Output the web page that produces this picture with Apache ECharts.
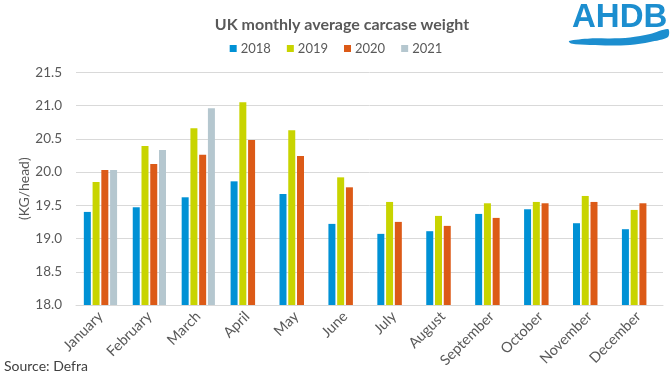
<!DOCTYPE html>
<html><head><meta charset="utf-8">
<script src="https://cdn.jsdelivr.net/npm/echarts@6/dist/echarts.min.js"></script>
<style>html,body{margin:0;padding:0;background:#fff}#c{width:672px;height:378px}</style>
</head><body><div id="c"></div>
<script>
const months = ['January','February','March','April','May','June','July','August','September','October','November','December'];
const y2018 = [19.40,19.47,19.62,19.86,19.67,19.22,19.07,19.11,19.37,19.44,19.23,19.14];
const y2019 = [19.85,20.39,20.66,21.05,20.63,19.92,19.55,19.34,19.53,19.55,19.64,19.43];
const y2020 = [20.03,20.12,20.26,20.48,20.24,19.77,19.25,19.19,19.31,19.53,19.55,19.53];
const y2021 = [20.03,20.33,20.96,null,null,null,null,null,null,null,null,null];
const seriesNames = ['2018','2019','2020','2021'];
const colors = ['#0091D5','#C8D400','#DC5A17','#B5C7CF'];
const FONT = 'Lato';
const chart = echarts.init(document.getElementById('c'), null, {renderer:'canvas'});
const dataSets = [y2018,y2019,y2020,y2021];
const wave = [[569,41],[590,38.5],[610,38.5],[630,37.5],[650,34],[668,29],
              [668,37],[650,42],[630,45],[610,45.5],[590,45],[571,43.5]];
chart.setOption({
  animation:false,
  color: colors,
  title:{text:'UK monthly average carcase weight', left:337, top:12, textAlign:'center',
    textStyle:{fontFamily:FONT, fontSize:16, fontWeight:'bold', color:'#595959'}},
  legend:{data:seriesNames, top:37, left:'center', itemWidth:7, itemHeight:7, itemGap:16, icon:'rect',
    textStyle:{fontFamily:FONT, fontSize:13, color:'#595959', padding:[0,0,0,-1]}},
  grid:{left:76, right:9, top:72.3, bottom:73},
  xAxis:{type:'category', data:months,
    axisLine:{lineStyle:{color:'#D9D9D9'}}, axisTick:{show:false},
    axisLabel:{rotate:45, interval:0, fontFamily:FONT, fontSize:14.5, color:'#595959', margin:9}},
  yAxis:{type:'value', min:18, max:21.5, interval:0.5,
    name:'(KG/head)', nameLocation:'middle', nameGap:45, nameRotate:90, nameMoveOverlap:false,
    nameTextStyle:{fontFamily:FONT, fontSize:14, color:'#595959'},
    axisLine:{show:false}, axisTick:{show:false},
    splitLine:{lineStyle:{color:'#D9D9D9', width:1}},
    axisLabel:{formatter:v=>v.toFixed(1), fontFamily:FONT, fontSize:13.5, color:'#595959', margin:14}},
  series: seriesNames.map((n,i)=>({name:n, type:'bar', data:dataSets[i], barWidth:7, barGap:'25%'})),
  graphic:[
    {type:'text', x:4, y:359, style:{text:'Source: Defra', font:'14px '+FONT, fill:'#404040'}},
    {type:'text', x:572, y:1, style:{text:'AHDB', font:'bold 33px "Liberation Sans"', fill:'#1C8ECF'}},
    {type:'polygon', shape:{points:wave, smooth:0.3}, style:{fill:'#1C8ECF'}}
  ]
});
</script></body></html>
